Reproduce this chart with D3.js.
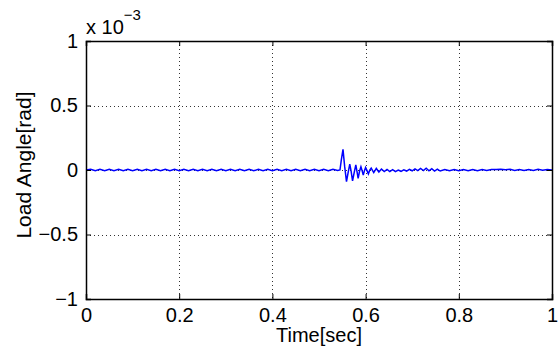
<!DOCTYPE html>
<html>
<head>
<meta charset="utf-8">
<script src="https://cdn.jsdelivr.net/npm/d3@7"></script>
<style>
  body { margin: 0; background: #fff; }
  svg { font-family: "Liberation Sans", Arial, sans-serif; }
</style>
</head>
<body>
<svg id="chart" width="558" height="350"></svg>
<script>
// x ticks and y ticks (y in units of 1e-3 rad)
const xTicks = [0, 0.2, 0.4, 0.6, 0.8, 1];
const yTicks = [-1, -0.5, 0, 0.5, 1];
const yTickLabels = ["\u22121", "\u22120.5", "0", "0.5", "1"];

// load angle trace, time in sec, value in 1e-3 rad
const time = [
  0, 0.01, 0.02, 0.03, 0.04, 0.05, 0.06, 0.07, 0.08, 0.09,
  0.10, 0.11, 0.12, 0.13, 0.14, 0.15, 0.16, 0.17, 0.18, 0.19,
  0.20, 0.21, 0.22, 0.23, 0.24, 0.25, 0.26, 0.27, 0.28, 0.29,
  0.30, 0.31, 0.32, 0.33, 0.34, 0.35, 0.36, 0.37, 0.38, 0.39,
  0.40, 0.41, 0.42, 0.43, 0.44, 0.45, 0.46, 0.47, 0.48, 0.49,
  0.50, 0.51, 0.52, 0.53, 0.54, 0.545, 0.548, 0.5515, 0.555, 0.559,
  0.5625, 0.566, 0.569, 0.572, 0.5755, 0.579, 0.5815, 0.584, 0.587, 0.590,
  0.5925, 0.595, 0.5975, 0.600, 0.603, 0.606, 0.609, 0.612, 0.6175, 0.623,
  0.6285, 0.634, 0.640, 0.646, 0.652, 0.658, 0.664, 0.670, 0.676, 0.682,
  0.688, 0.694, 0.700, 0.706, 0.712, 0.718, 0.724, 0.730, 0.736, 0.742,
  0.748, 0.754, 0.760, 0.770, 0.780, 0.790, 0.800, 0.810, 0.820, 0.830,
  0.840, 0.850, 0.860, 0.870, 0.880, 0.890, 0.900, 0.910, 0.920, 0.930,
  0.940, 0.950, 0.960, 0.970, 0.980, 0.990, 1.0
];
const loadAngle = [
  0.000, 0.006, -0.005, 0.005, -0.006, 0.006, -0.005, 0.006, -0.006, 0.005,
  -0.005, 0.006, -0.006, 0.005, -0.005, 0.006, -0.006, 0.005, -0.006, 0.006,
  -0.005, 0.006, -0.006, 0.005, -0.006, 0.006, -0.005, 0.006, -0.006, 0.005,
  -0.006, 0.006, -0.005, 0.006, -0.006, 0.005, -0.006, 0.006, -0.005, 0.006,
  -0.006, 0.005, -0.006, 0.006, -0.005, 0.006, -0.006, 0.005, -0.006, 0.006,
  -0.005, 0.006, -0.006, 0.005, -0.004, 0.000, 0.080, 0.160, 0.030, -0.090,
  -0.020, 0.045, -0.010, -0.085, -0.020, 0.040, -0.010, -0.065, -0.010, 0.025,
  -0.005, -0.040, -0.005, 0.020, -0.005, -0.030, 0.000, 0.015, -0.020, 0.012,
  -0.015, 0.008, -0.012, 0.005, -0.012, 0.002, -0.012, 0.000, -0.010, 0.002,
  -0.008, 0.005, -0.006, 0.008, -0.005, 0.012, -0.004, 0.014, -0.006, 0.010,
  -0.008, 0.006, -0.008, 0.004, -0.006, 0.004, -0.006, 0.003, -0.006, 0.004,
  -0.005, 0.003, -0.004, 0.004, 0.003, 0.006, 0.002, 0.005, -0.003, 0.004,
  -0.004, 0.003, -0.003, 0.005, -0.002, 0.004, 0.000
];

const svg = d3.select("#chart");
const margin = {left: 86, right: 6, top: 41, bottom: 51};
const W = 558, H = 350;

const x = d3.scaleLinear().domain([0, 1]).range([margin.left, W - margin.right]);
const y = d3.scaleLinear().domain([-1, 1]).range([H - margin.bottom, margin.top]);

// dotted grid
const grid = svg.append("g").attr("stroke", "#333").attr("stroke-width", 1)
  .attr("stroke-dasharray", "1,3");
grid.selectAll("line.gx").data(xTicks.slice(1, -1)).enter().append("line")
  .attr("x1", d => Math.round(x(d)) + 0.5).attr("x2", d => Math.round(x(d)) + 0.5)
  .attr("y1", y(1)).attr("y2", y(-1));
grid.selectAll("line.gy").data(yTicks.slice(1, -1)).enter().append("line")
  .attr("y1", d => Math.round(y(d)) + 0.5).attr("y2", d => Math.round(y(d)) + 0.5)
  .attr("x1", x(0)).attr("x2", x(1));

// trace
const line = d3.line().x((d, i) => x(time[i])).y(d => y(d));
svg.append("path").datum(loadAngle)
  .attr("d", line)
  .attr("fill", "none")
  .attr("stroke", "#0000ff")
  .attr("stroke-width", 1.5);

// axes (MATLAB style, ticks inside, mirrored)
const fs = 20;
const axBottom = svg.append("g").attr("transform", `translate(0,${y(-1)})`)
  .call(d3.axisBottom(x).tickValues(xTicks).tickSize(-5).tickPadding(9)
    .tickFormat(d3.format("~g")));
const axTop = svg.append("g").attr("transform", `translate(0,${y(1)})`)
  .call(d3.axisTop(x).tickValues(xTicks).tickSize(-5).tickFormat(""));
const axLeft = svg.append("g").attr("transform", `translate(${x(0)},0)`)
  .call(d3.axisLeft(y).tickValues(yTicks).tickSize(-5).tickPadding(8)
    .tickFormat((d, i) => yTickLabels[i]));
const axRight = svg.append("g").attr("transform", `translate(${x(1)},0)`)
  .call(d3.axisRight(y).tickValues(yTicks).tickSize(-5).tickFormat(""));

[axBottom, axTop, axLeft, axRight].forEach(g => {
  g.selectAll(".domain").attr("stroke", "#000").attr("stroke-width", 1.5);
  g.selectAll(".tick line").attr("stroke", "#000").attr("stroke-width", 1);
  g.selectAll("text").attr("font-size", fs).attr("fill", "#000")
    .attr("font-family", "Liberation Sans, Arial, sans-serif");
});

// exponent label
const expo = svg.append("text").attr("x", x(0)).attr("y", 34)
  .attr("font-size", fs).attr("fill", "#000");
expo.append("tspan").text("x 10");
expo.append("tspan").attr("dy", -14).attr("font-size", 15).text("\u22123");

// axis titles
svg.append("text").attr("x", (x(0) + x(1)) / 2).attr("y", 342)
  .attr("text-anchor", "middle").attr("font-size", 20).text("Time[sec]");
svg.append("text").attr("transform", `translate(31,165) rotate(-90)`)
  .attr("text-anchor", "middle").attr("font-size", 21).text("Load Angle[rad]");
</script>
</body>
</html>
